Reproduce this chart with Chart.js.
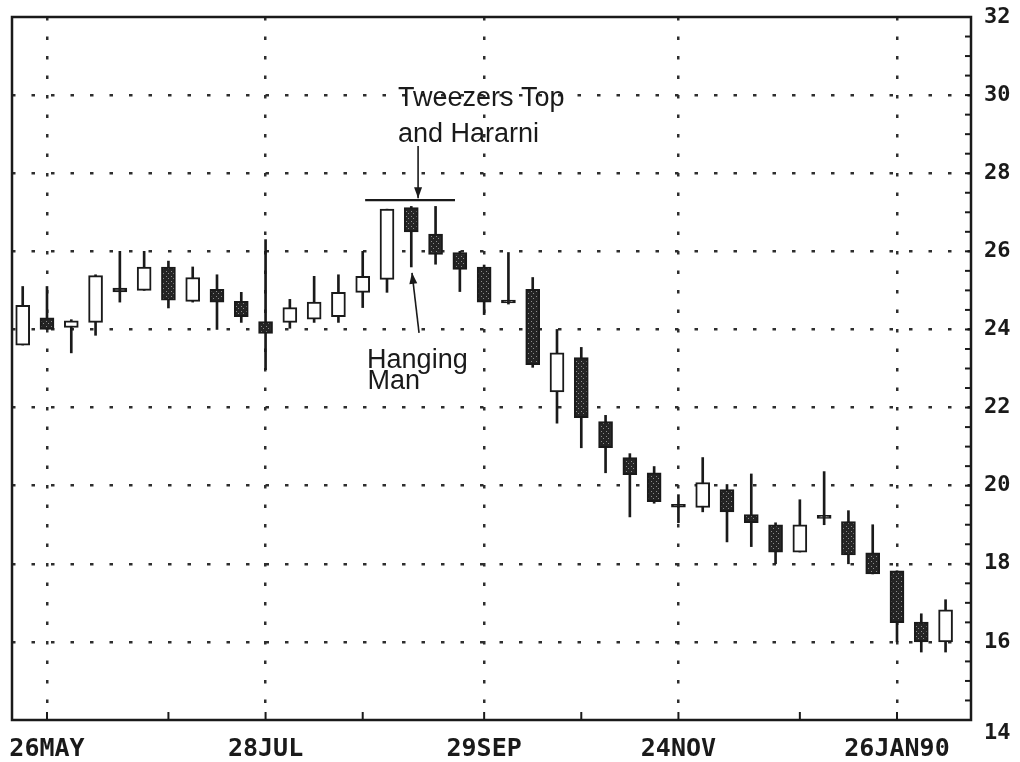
<!DOCTYPE html>
<html>
<head>
<meta charset="utf-8">
<script src="https://cdn.jsdelivr.net/npm/chart.js@4.4.0/dist/chart.umd.min.js"></script>
<style>
  html, body { margin: 0; padding: 0; background: #fff; }
  canvas { display: block; }
</style>
</head>
<body>
<canvas id="c" width="1020" height="762"></canvas>
<script>
// Weekly bars, week ending Friday
const weeks = ['19MAY','26MAY','02JUN','09JUN','16JUN','23JUN','30JUN','07JUL','14JUL','21JUL',
  '28JUL','04AUG','11AUG','18AUG','25AUG','01SEP','08SEP','15SEP','22SEP','29SEP',
  '06OCT','13OCT','20OCT','27OCT','03NOV','10NOV','17NOV','24NOV','01DEC','08DEC',
  '15DEC','22DEC','29DEC','05JAN90','12JAN90','19JAN90','26JAN90','02FEB90','09FEB90'];

const opens  = [23.6, 24.3, 24.05, 24.18, 25.06, 25.0, 25.6, 24.72, 25.03, 24.72,
  24.2, 24.18, 24.26, 24.33, 24.95, 25.28, 27.12, 26.44, 25.97, 25.6,
  24.75, 25.03, 22.4, 23.28, 21.64, 20.72, 20.33, 19.52, 19.44, 19.9,
  19.26, 19.0, 18.3, 19.24, 19.08, 18.28, 17.82, 16.51, 16.0];
const highs  = [25.1, 25.1, 24.25, 25.4, 26.0, 26.0, 25.75, 25.6, 25.4, 24.95,
  26.3, 24.77, 25.36, 25.4, 26.0, 27.08, 27.15, 27.15, 26.0, 25.65,
  25.97, 25.33, 24.0, 23.54, 21.8, 20.82, 20.49, 19.77, 20.72, 20.03,
  20.3, 19.05, 19.64, 20.36, 19.36, 19.0, 17.82, 16.72, 17.08];
const lows   = [23.6, 24.0, 23.4, 23.85, 24.7, 25.0, 24.55, 24.7, 24.0, 24.18,
  22.97, 24.03, 24.18, 24.18, 24.56, 24.95, 25.6, 25.67, 24.97, 24.38,
  24.65, 23.03, 21.6, 20.97, 20.33, 19.2, 19.55, 19.05, 19.33, 18.56,
  18.44, 18.0, 18.3, 19.0, 18.0, 17.74, 16.0, 15.74, 15.74];
const closes = [24.62, 24.0, 24.22, 25.38, 24.96, 25.6, 24.75, 25.33, 24.7, 24.33,
  23.9, 24.56, 24.7, 24.95, 25.36, 27.08, 26.5, 25.92, 25.54, 24.7,
  24.68, 23.1, 23.4, 21.74, 20.97, 20.28, 19.59, 19.45, 20.08, 19.33,
  19.05, 18.3, 19.0, 19.16, 18.23, 17.74, 16.49, 16.0, 16.82];

// Date axis: a tick at each month's last week, labels every other month
const monthEndWeeks = ['26MAY','30JUN','28JUL','25AUG','29SEP','27OCT','24NOV','29DEC','26JAN90'];
const labeledWeeks  = ['26MAY','28JUL','29SEP','24NOV','26JAN90'];

// Price axis
const priceMin = 14, priceMax = 32, priceStep = 2, priceMinorStep = 0.5;

// Stippled fill for falling bodies
function stipple() {
  const c = document.createElement('canvas');
  c.width = 5; c.height = 5;
  const g = c.getContext('2d');
  g.fillStyle = '#242424';
  g.fillRect(0, 0, 5, 5);
  g.fillStyle = '#8c8c8c';
  g.fillRect(1, 1, 1, 1);
  g.fillRect(3, 3, 1, 1);
  return g.createPattern(c, 'repeat');
}
const downFill = stipple();

const idx = weeks.map((w, i) => i);
const wickData = idx.map(i => ({ x: i, y: [lows[i], highs[i]] }));
const bodyData = idx.map(i => ({ x: i, y: [opens[i], closes[i]] }));

const INK = '#1a1a1a';
const DOT = '#2e2e2e';

const framePlugin = {
  id: 'frame',
  afterDatasetsDraw(chart) {
    const { ctx, chartArea: a, scales: { x, y } } = chart;
    ctx.save();
    ctx.strokeStyle = INK;
    ctx.lineWidth = 2.5;
    ctx.strokeRect(a.left, a.top, a.right - a.left, a.bottom - a.top);
    // inward tick marks on the date axis
    ctx.lineWidth = 2;
    monthEndWeeks.forEach(w => {
      const px = x.getPixelForValue(weeks.indexOf(w));
      ctx.beginPath();
      ctx.moveTo(px, a.bottom);
      ctx.lineTo(px, a.bottom - 8);
      ctx.stroke();
    });
    // inward tick marks on the price axis
    for (let v = priceMin; v <= priceMax + 1e-9; v += priceMinorStep) {
      const py = y.getPixelForValue(v);
      ctx.beginPath();
      ctx.moveTo(a.right, py);
      ctx.lineTo(a.right - 6, py);
      ctx.stroke();
    }
    ctx.restore();
  }
};

function arrowHead(ctx, x1, y1, x2, y2, len, half) {
  const ang = Math.atan2(y2 - y1, x2 - x1);
  ctx.beginPath();
  ctx.moveTo(x2, y2);
  ctx.lineTo(x2 - len * Math.cos(ang) + half * Math.sin(ang), y2 - len * Math.sin(ang) - half * Math.cos(ang));
  ctx.lineTo(x2 - len * Math.cos(ang) - half * Math.sin(ang), y2 - len * Math.sin(ang) + half * Math.cos(ang));
  ctx.closePath();
  ctx.fill();
}

const notesPlugin = {
  id: 'notes',
  afterDraw(chart) {
    const { ctx, scales: { x, y } } = chart;
    const X = v => x.getPixelForValue(v);
    const Y = v => y.getPixelForValue(v);
    ctx.save();
    ctx.fillStyle = INK;
    ctx.strokeStyle = INK;
    ctx.font = '27px "Liberation Sans", Arial, sans-serif';
    ctx.textAlign = 'left';
    ctx.textBaseline = 'alphabetic';
    ctx.fillText('Tweezers Top', X(15.45), Y(29.72));
    ctx.fillText('and Hararni', X(15.45), Y(28.81));
    ctx.fillText('Hanging', X(14.18), Y(23.01));
    ctx.fillText('Man', X(14.2), Y(22.47));

    // level line across the twin highs
    ctx.lineWidth = 2.2;
    ctx.beginPath();
    ctx.moveTo(X(14.1), Y(27.31));
    ctx.lineTo(X(17.8), Y(27.31));
    ctx.stroke();

    // arrow down to the twin highs
    ctx.lineWidth = 1.6;
    ctx.beginPath();
    ctx.moveTo(X(16.28), Y(28.70));
    ctx.lineTo(X(16.28), Y(27.36));
    ctx.stroke();
    arrowHead(ctx, X(16.28), Y(28.70), X(16.28), Y(27.36), 11, 4);

    // arrow up to the long lower shadow
    ctx.beginPath();
    ctx.moveTo(X(16.32), Y(23.91));
    ctx.lineTo(X(16.03), Y(25.45));
    ctx.stroke();
    arrowHead(ctx, X(16.32), Y(23.91), X(16.03), Y(25.45), 11, 4);
    ctx.restore();
  }
};

new Chart(document.getElementById('c'), {
  type: 'bar',
  data: {
    datasets: [
      {
        label: 'body',
        data: bodyData,
        order: 0,
        grouped: false,
        barThickness: 14,
        borderWidth: 2,
        borderSkipped: false,
        borderColor: INK,
        backgroundColor: c => (closes[c.dataIndex] > opens[c.dataIndex] ? '#ffffff' : downFill)
      },
      {
        label: 'range',
        data: wickData,
        order: 1,
        grouped: false,
        barThickness: 2,
        borderWidth: 0,
        backgroundColor: INK
      }
    ]
  },
  options: {
    responsive: false,
    animation: false,
    devicePixelRatio: 1,
    layout: { padding: { left: 12, top: 17, right: 0, bottom: 0 } },
    plugins: { legend: { display: false }, tooltip: { enabled: false } },
    scales: {
      x: {
        type: 'linear',
        offset: false,
        min: -0.441,
        max: 39.047,
        afterBuildTicks: s => { s.ticks = monthEndWeeks.map(w => ({ value: weeks.indexOf(w) })); },
        afterFit: s => { s.height = 42; s.paddingLeft = 0; s.paddingRight = 0; },
        grid: {
          offset: false,
          drawTicks: false,
          lineWidth: 2.5,
          color: c => (c.tick && labeledWeeks.includes(weeks[c.tick.value]) ? DOT : 'rgba(0,0,0,0)')
        },
        border: { display: false, dash: [3.5, 16] },
        ticks: {
          autoSkip: false,
          maxRotation: 0,
          padding: 14,
          color: INK,
          font: { family: '"DejaVu Sans Mono", monospace', size: 25, weight: 'bold' },
          callback: v => (labeledWeeks.includes(weeks[v]) ? weeks[v] : '')
        }
      },
      y: {
        position: 'right',
        min: priceMin,
        max: priceMax,
        afterFit: s => { s.width = 49; s.paddingTop = 0; s.paddingBottom = 0; },
        grid: {
          drawTicks: false,
          lineWidth: 2.5,
          color: c => (c.tick && (c.tick.value === priceMin || c.tick.value === priceMax) ? 'rgba(0,0,0,0)' : DOT)
        },
        border: { display: false, dash: [3.5, 16] },
        ticks: {
          stepSize: priceStep,
          padding: 13,
          color: INK,
          font: { family: '"DejaVu Sans Mono", monospace', size: 22, weight: 'bold' },
          callback: v => (v === priceMin ? ['', String(v)] : String(v))
        }
      }
    }
  },
  plugins: [framePlugin, notesPlugin]
});
</script>
</body>
</html>
